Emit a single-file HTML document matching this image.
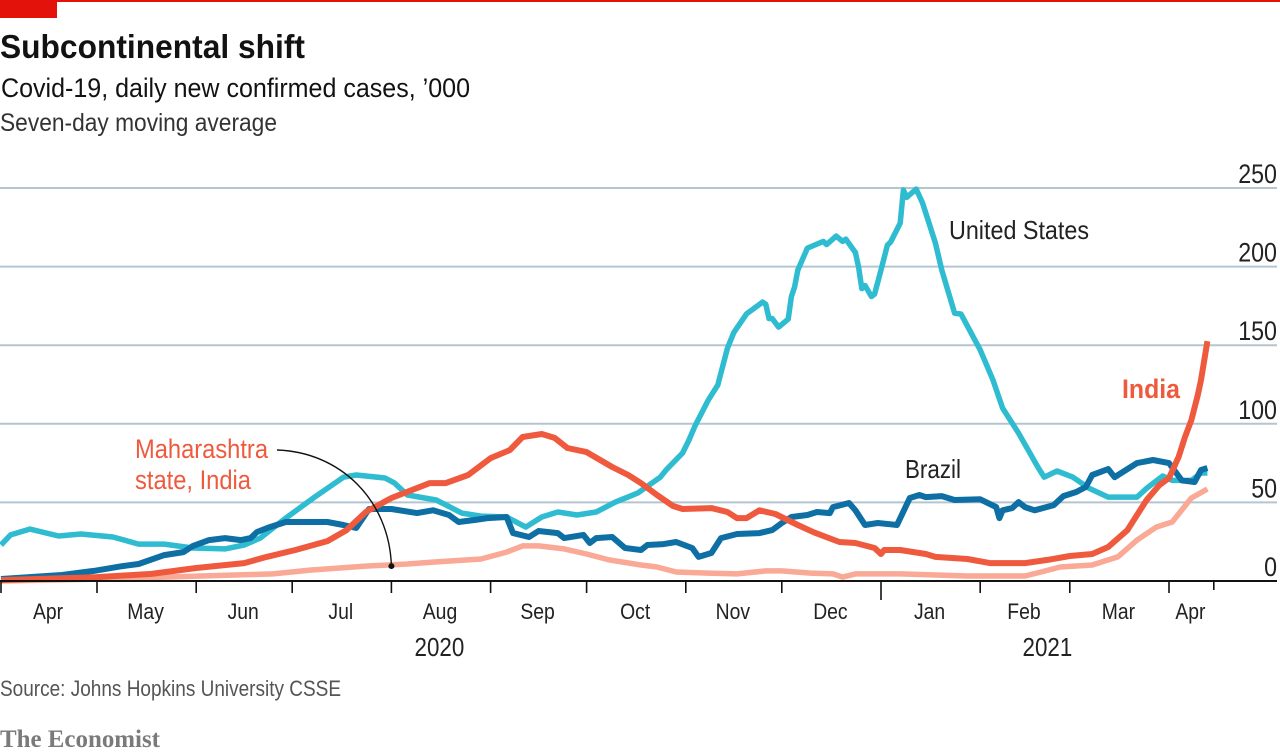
<!DOCTYPE html>
<html lang="en">
<head>
<meta charset="utf-8">
<title>Subcontinental shift</title>
<style>
html,body{margin:0;padding:0;background:#fff;width:1280px;height:755px;overflow:hidden}
svg{display:block;font-family:"Liberation Sans",sans-serif}
</style>
</head>
<body>
<svg id="chart" xmlns="http://www.w3.org/2000/svg" width="1280" height="755" viewBox="0 0 1280 755">
  <rect x="0" y="0" width="1280" height="755" fill="#fff"/>
  <rect x="0" y="0" width="1280" height="2" fill="#e3120b"/>
  <rect x="0" y="0" width="57" height="18" fill="#e3120b"/>
  <text x="0" y="58" font-size="33" font-weight="bold" fill="#121212" textLength="305" lengthAdjust="spacingAndGlyphs">Subcontinental shift</text>
  <text x="1" y="97" font-size="27" fill="#121212" textLength="469" lengthAdjust="spacingAndGlyphs">Covid-19, daily new confirmed cases, ’000</text>
  <text x="0" y="131" font-size="25" fill="#333" textLength="277" lengthAdjust="spacingAndGlyphs">Seven-day moving average</text>
  <g id="grid"></g>
  <g id="series"></g>
  <g id="axis"></g>
  <g id="yaxis"></g>
  <text x="949" y="239" font-size="26" fill="#222" textLength="140" lengthAdjust="spacingAndGlyphs">United States</text>
  <text x="905" y="478" font-size="26" fill="#222" textLength="56" lengthAdjust="spacingAndGlyphs">Brazil</text>
  <text x="1122" y="398" font-size="27" font-weight="bold" fill="#ee5a3e" textLength="58" lengthAdjust="spacingAndGlyphs">India</text>
  <text x="135" y="458" font-size="27" fill="#ee5a3e" textLength="133" lengthAdjust="spacingAndGlyphs">Maharashtra</text>
  <text x="135" y="489" font-size="27" fill="#ee5a3e" textLength="116" lengthAdjust="spacingAndGlyphs">state, India</text>
  <path id="leader" fill="none" stroke="#121212" stroke-width="1.4"/>
  <circle id="leaderDot" r="3" fill="#121212"/>
  <text x="0" y="696" font-size="22" fill="#555" textLength="341" lengthAdjust="spacingAndGlyphs">Source: Johns Hopkins University CSSE</text>
  <text x="0" y="747" font-family="'Liberation Serif',serif" font-size="25" font-weight="bold" fill="#7a7a7a" textLength="160" lengthAdjust="spacingAndGlyphs">The Economist</text>
</svg>
<script>
// Days are counted from 1 April 2020; values are thousands of daily cases.
const yTicks = [0, 50, 100, 150, 200, 250];
const monthNames = ["Apr","May","Jun","Jul","Aug","Sep","Oct","Nov","Dec","Jan","Feb","Mar","Apr"];
const monthStarts = [0,30,61,91,122,153,183,214,244,275,306,334,365];
const axisEndDay = 379;
const yearLabels = ["2020","2021"];
const yearCentreDays = [137,327];
const yearTickDay = 275;
const leaderDay = 122;
const leaderValue = 9.5;

const usDays = [0,3,9,18,25,35,43,51,60,70,76,81,89,98,107,111,120,123,127,136,144,150,158,164,169,174,180,186,192,199,206,208,213,215,217,221,224,227,229,233,238,239,240,241,243,246,247,248,249,252,257,258,261,263,264,267,268,269,270,272,273,275,277,278,281,282,283,286,288,292,294,298,300,306,310,313,318,324,326,330,335,340,346,355,358,363,366,372,375,377];
const usValues = [22.9,29.3,33,28.6,29.9,28,23.5,23.5,21,20.4,22.9,27.3,40,53.4,66,67.4,65.5,62.3,54.7,51.5,43.2,41.3,40.7,34.3,40.7,43.9,42,43.9,50.2,56,66,71,81.4,89.7,99.2,115,124.7,148,158,170,177.4,176,167,167,161.5,166.6,181,187,197.8,211.8,216,214,219.4,216,217.5,209,199.7,186,188,181,182.5,197.8,213.7,215.6,227.7,248.7,244,249.3,240.4,215,197.8,170.4,169.8,147,127.8,110,94,72.5,66,70,66,59,53.4,53.4,59,66.8,64,64,68.7,68.7];

const mhDays = [0,30,51,85,97,114,127,135,150,158,163,168,176,183,190,200,205,211,221,230,239,244,253,260,263,267,281,302,320,325,331,341,349,355,361,366,372,377];
const mhValues = [0,1.2,2.5,4.5,7,9.5,10.8,12,14,18.4,22.3,22.3,20.4,17.2,13.4,10.2,8.9,5.7,5,4.5,6.4,6.4,5,4.5,2.5,4.5,4.5,3.2,3.2,5.7,8.9,10.2,15.3,26,34.3,37.5,52.8,58.5];

const brDays = [0,19,29,38,43,51,57,60,65,70,75,78,80,84,89,97,102,107,111,115,122,130,135,140,143,148,152,158,160,165,168,174,176,182,184,186,191,195,200,202,207,211,216,218,222,225,230,237,241,244,247,252,255,259,260,265,267,270,274,280,284,287,289,294,298,306,311,312,313,316,318,320,323,329,332,336,339,341,346,348,355,360,365,369,373,375,377];
const brValues = [1.3,3.8,6.4,9.5,10.8,16.5,18.4,22.3,26,27.3,26,27.3,31.2,34.3,37.5,37.5,37.5,35.6,33.7,45.8,45.8,43.2,45,42,37.5,38.8,40,40.7,30.5,28,31.8,30.5,27.3,29.3,24.2,27.3,28,21,19.7,22.9,23.5,24.8,21,15.3,17.8,27.3,29.9,30.5,32.4,36.9,40.7,42,43.9,43.2,47,49.6,45,35.6,36.9,35.6,52.8,54.7,53.4,54,51.5,52,47,40,45,46.4,50.2,47,45,48.3,54,56.6,59.8,67.4,71.2,66,75,77,75,64,63,70.6,71.9];

const inDays = [0,30,47,61,76,83,92,102,108,114,122,134,139,146,153,159,163,169,173,177,183,191,196,200,205,210,213,222,227,230,233,237,242,249,254,262,267,273,275,276,281,289,292,302,309,320,327,334,341,346,352,358,362,365,368,370,372,374,375,377];
const inValues = [0.6,2.5,4.5,8.3,11.4,15.3,19.7,25.4,32.4,43.9,52.8,62.3,62.3,67.4,78.2,83.3,91.6,93.5,91,84.6,82,72.5,67.4,62.3,54.7,47.7,45.8,46.4,43.9,40,40,45,42.6,35.6,31,24.8,24.2,21,17.2,19.7,19.7,17.2,15.3,14,11.4,11.4,13.4,15.9,17.2,21.6,32.4,51.5,61,65.5,78.9,91.6,102.4,118.3,127.8,152.6];

const NS = "http://www.w3.org/2000/svg";
const xScale = d => 1 + 3.2 * d;
const yScale = v => 581 - 1.572 * v;

function make(tag, parent, props) {
  const el = document.createElementNS(NS, tag);
  for (const k in props) el.setAttribute(k, props[k]);
  parent.appendChild(el);
  return el;
}
function linePath(days, values) {
  return days.map((d, i) => (i ? "L" : "M") + xScale(d).toFixed(1) + "," + yScale(values[i]).toFixed(1)).join("");
}
function squeeze(el, ratio) {
  el.setAttribute("textLength", (el.getComputedTextLength() * ratio).toFixed(1));
  el.setAttribute("lengthAdjust", "spacingAndGlyphs");
}

const grid = document.getElementById("grid");
const yaxis = document.getElementById("yaxis");
const axis = document.getElementById("axis");
const seriesGroup = document.getElementById("series");

yTicks.forEach(t => {
  if (t > 0) {
    const g = make("line", grid, {x1: 0, x2: 1277, y1: yScale(t), y2: yScale(t), stroke: "#b4c5d2", "stroke-width": 2});
    
    
  }
  const lab = make("text", yaxis, {x: 1277, y: yScale(t) - 5, "font-size": 27, "text-anchor": "end", fill: "#222"});
  lab.textContent = String(t);
  
  
  squeeze(lab, 0.86);
});

const usLine = make("path", seriesGroup, {d: linePath(usDays, usValues), fill: "none", stroke: "#2fbcd1", "stroke-width": 5.5, "stroke-linejoin": "round"});


const mhLine = make("path", seriesGroup, {d: linePath(mhDays, mhValues), fill: "none", stroke: "#f9a995", "stroke-width": 5.5, "stroke-linejoin": "round"});


const brLine = make("path", seriesGroup, {d: linePath(brDays, brValues), fill: "none", stroke: "#0e6fa4", "stroke-width": 6, "stroke-linejoin": "round"});


const inLine = make("path", seriesGroup, {d: linePath(inDays, inValues), fill: "none", stroke: "#ef5a3e", "stroke-width": 6, "stroke-linejoin": "round"});



const baseline = make("line", axis, {x1: 0, x2: 1277, y1: yScale(0), y2: yScale(0), stroke: "#121212", "stroke-width": 2});



monthStarts.concat([axisEndDay]).forEach(d => {
  const bottom = d === yearTickDay ? 600 : (d === axisEndDay ? 590 : 593);
  const tick = make("line", axis, {x1: xScale(d), x2: xScale(d), y1: yScale(0), y2: bottom, stroke: "#121212", "stroke-width": 1.6});
  
  
});
monthNames.forEach((m, i) => {
  const next = i + 1 < monthStarts.length ? monthStarts[i + 1] : axisEndDay;
  const lab = make("text", axis, {x: xScale((monthStarts[i] + next) / 2) - 1, y: 619, "font-size": 22, "text-anchor": "middle", fill: "#222"});
  lab.textContent = m;
  
  
  squeeze(lab, 0.88);
});
yearLabels.forEach((y, i) => {
  const lab = make("text", axis, {x: xScale(yearCentreDays[i]), y: 656, "font-size": 26, "text-anchor": "middle", fill: "#222"});
  lab.textContent = y;
  
  
  squeeze(lab, 0.86);
});

const dotX = xScale(leaderDay), dotY = yScale(leaderValue);
document.getElementById("leader").setAttribute("d", "M277,450 C340,452 " + (dotX - 2) + ",500 " + dotX + "," + dotY);
document.getElementById("leaderDot").setAttribute("cx", dotX);
document.getElementById("leaderDot").setAttribute("cy", dotY);
</script>
</body>
</html>
